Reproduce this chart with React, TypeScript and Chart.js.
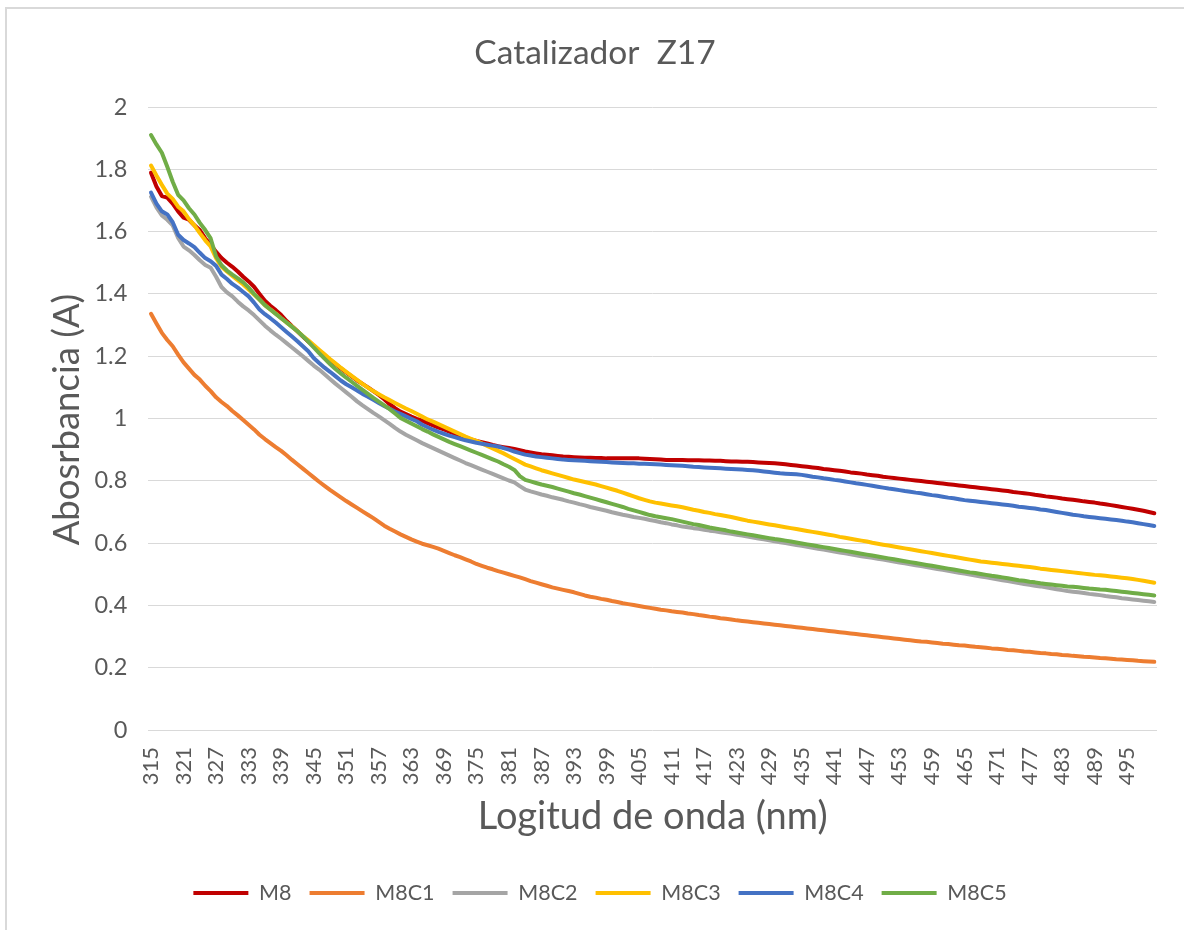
import React, { useEffect, useRef } from 'react';
import { Chart, registerables } from 'chart.js';

Chart.register(...registerables);

// ---------- DATA ----------
const categories = [
  '315','316','317','318','319','320','321','322','323','324',
  '325','326','327','328','329','330','331','332','333','334',
  '335','336','337','338','339','340','341','342','343','344',
  '345','346','347','348','349','350','351','352','353','354',
  '355','356','357','358','359','360','361','362','363','364',
  '365','366','367','368','369','370','371','372','373','374',
  '375','376','377','378','379','380','381','382','383','384',
  '385','386','387','388','389','390','391','392','393','394',
  '395','396','397','398','399','400','401','402','403','404',
  '405','406','407','408','409','410','411','412','413','414',
  '415','416','417','418','419','420','421','422','423','424',
  '425','426','427','428','429','430','431','432','433','434',
  '435','436','437','438','439','440','441','442','443','444',
  '445','446','447','448','449','450','451','452','453','454',
  '455','456','457','458','459','460','461','462','463','464',
  '465','466','467','468','469','470','471','472','473','474',
  '475','476','477','478','479','480','481','482','483','484',
  '485','486','487','488','489','490','491','492','493','494',
  '495','496','497','498','499','500',
];

const M8 = [
  1.789,1.745,1.714,1.709,1.690,1.665,1.645,1.638,1.620,1.605,
  1.578,1.558,1.535,1.515,1.500,1.487,1.472,1.455,1.440,1.423,
  1.400,1.378,1.362,1.348,1.332,1.313,1.296,1.280,1.263,1.247,
  1.232,1.217,1.202,1.188,1.175,1.161,1.148,1.135,1.122,1.111,
  1.100,1.088,1.076,1.062,1.046,1.033,1.022,1.014,1.006,0.999,
  0.993,0.985,0.978,0.971,0.965,0.958,0.951,0.945,0.939,0.933,
  0.928,0.924,0.920,0.915,0.911,0.908,0.905,0.902,0.898,0.894,
  0.891,0.888,0.885,0.884,0.882,0.880,0.878,0.877,0.876,0.875,
  0.874,0.874,0.873,0.873,0.872,0.872,0.872,0.872,0.872,0.872,
  0.872,0.871,0.870,0.869,0.868,0.867,0.867,0.867,0.867,0.866,
  0.866,0.866,0.865,0.865,0.864,0.864,0.863,0.862,0.862,0.861,
  0.861,0.860,0.859,0.858,0.857,0.856,0.855,0.853,0.851,0.849,
  0.847,0.845,0.843,0.841,0.838,0.836,0.834,0.832,0.830,0.827,
  0.825,0.823,0.820,0.818,0.816,0.813,0.811,0.809,0.807,0.805,
  0.803,0.801,0.799,0.797,0.795,0.793,0.791,0.789,0.787,0.785,
  0.783,0.781,0.779,0.777,0.775,0.773,0.771,0.769,0.767,0.764,
  0.762,0.760,0.758,0.755,0.753,0.750,0.748,0.746,0.743,0.741,
  0.739,0.737,0.734,0.732,0.730,0.727,0.725,0.722,0.719,0.716,
  0.713,0.710,0.707,0.704,0.700,0.696,
];

const M8C1 = [
  1.336,1.305,1.275,1.252,1.232,1.205,1.180,1.160,1.140,1.125,
  1.105,1.088,1.068,1.053,1.040,1.024,1.010,0.995,0.980,0.965,
  0.948,0.934,0.921,0.908,0.896,0.882,0.867,0.853,0.839,0.825,
  0.811,0.797,0.784,0.771,0.759,0.747,0.735,0.724,0.713,0.702,
  0.691,0.680,0.668,0.656,0.646,0.637,0.628,0.620,0.612,0.605,
  0.598,0.593,0.588,0.582,0.575,0.568,0.561,0.555,0.548,0.541,
  0.533,0.527,0.521,0.516,0.510,0.505,0.500,0.495,0.490,0.484,
  0.478,0.473,0.468,0.463,0.458,0.454,0.450,0.446,0.442,0.437,
  0.432,0.428,0.425,0.421,0.418,0.414,0.411,0.407,0.404,0.401,
  0.398,0.395,0.392,0.389,0.386,0.384,0.381,0.379,0.377,0.374,
  0.372,0.369,0.367,0.364,0.362,0.359,0.357,0.355,0.352,0.350,
  0.348,0.346,0.344,0.342,0.340,0.338,0.336,0.334,0.332,0.330,
  0.328,0.326,0.324,0.322,0.320,0.318,0.316,0.314,0.312,0.310,
  0.308,0.306,0.304,0.302,0.300,0.298,0.296,0.294,0.292,0.290,
  0.288,0.286,0.284,0.283,0.281,0.279,0.277,0.276,0.274,0.272,
  0.271,0.269,0.267,0.266,0.264,0.262,0.261,0.259,0.257,0.256,
  0.254,0.252,0.251,0.249,0.247,0.246,0.244,0.243,0.241,0.240,
  0.238,0.237,0.235,0.234,0.233,0.231,0.230,0.229,0.227,0.226,
  0.225,0.224,0.222,0.221,0.220,0.219,
];

const M8C2 = [
  1.712,1.678,1.652,1.638,1.620,1.580,1.552,1.540,1.525,1.508,
  1.493,1.484,1.455,1.422,1.405,1.392,1.375,1.360,1.347,1.332,
  1.315,1.298,1.283,1.269,1.256,1.242,1.228,1.214,1.200,1.185,
  1.170,1.157,1.142,1.127,1.112,1.098,1.084,1.070,1.055,1.042,
  1.030,1.018,1.007,0.995,0.983,0.970,0.958,0.948,0.939,0.930,
  0.921,0.913,0.905,0.897,0.889,0.881,0.873,0.865,0.857,0.850,
  0.843,0.836,0.829,0.822,0.815,0.808,0.801,0.795,0.783,0.772,
  0.766,0.761,0.756,0.752,0.747,0.743,0.739,0.734,0.730,0.725,
  0.721,0.716,0.712,0.708,0.704,0.699,0.695,0.691,0.688,0.684,
  0.681,0.678,0.674,0.671,0.667,0.664,0.660,0.657,0.653,0.651,
  0.648,0.646,0.643,0.640,0.638,0.635,0.632,0.630,0.627,0.624,
  0.621,0.618,0.615,0.612,0.609,0.606,0.603,0.600,0.597,0.594,
  0.591,0.588,0.585,0.582,0.579,0.576,0.573,0.570,0.567,0.564,
  0.561,0.558,0.555,0.553,0.550,0.547,0.544,0.541,0.538,0.535,
  0.532,0.529,0.526,0.523,0.520,0.517,0.514,0.511,0.508,0.505,
  0.502,0.499,0.496,0.493,0.490,0.487,0.484,0.481,0.478,0.475,
  0.472,0.469,0.466,0.463,0.461,0.458,0.455,0.452,0.449,0.446,
  0.444,0.442,0.440,0.437,0.435,0.433,0.430,0.428,0.426,0.423,
  0.421,0.419,0.417,0.415,0.413,0.411,
];

const M8C3 = [
  1.812,1.780,1.750,1.722,1.705,1.680,1.665,1.640,1.620,1.595,
  1.572,1.552,1.515,1.487,1.472,1.458,1.444,1.430,1.414,1.398,
  1.382,1.364,1.350,1.337,1.322,1.308,1.295,1.280,1.265,1.251,
  1.236,1.221,1.206,1.191,1.177,1.163,1.150,1.137,1.124,1.111,
  1.099,1.088,1.078,1.068,1.059,1.050,1.041,1.032,1.024,1.015,
  1.006,0.997,0.990,0.982,0.974,0.966,0.958,0.950,0.942,0.935,
  0.928,0.920,0.912,0.904,0.896,0.888,0.879,0.870,0.861,0.852,
  0.846,0.840,0.834,0.829,0.824,0.819,0.814,0.809,0.804,0.800,
  0.796,0.792,0.788,0.783,0.778,0.773,0.768,0.762,0.756,0.750,
  0.744,0.739,0.734,0.730,0.727,0.724,0.721,0.718,0.715,0.711,
  0.707,0.704,0.700,0.697,0.693,0.690,0.687,0.684,0.680,0.676,
  0.672,0.669,0.666,0.663,0.660,0.657,0.654,0.651,0.648,0.645,
  0.642,0.639,0.636,0.633,0.630,0.627,0.624,0.620,0.617,0.614,
  0.611,0.608,0.605,0.601,0.598,0.595,0.592,0.589,0.586,0.583,
  0.580,0.577,0.574,0.571,0.568,0.565,0.562,0.559,0.556,0.553,
  0.550,0.547,0.544,0.541,0.539,0.537,0.535,0.533,0.531,0.529,
  0.527,0.525,0.523,0.521,0.518,0.516,0.514,0.512,0.510,0.508,
  0.506,0.504,0.502,0.500,0.498,0.497,0.495,0.493,0.491,0.489,
  0.487,0.485,0.482,0.479,0.476,0.473,
];

const M8C4 = [
  1.725,1.690,1.665,1.655,1.630,1.590,1.573,1.562,1.550,1.532,
  1.515,1.505,1.490,1.462,1.448,1.432,1.420,1.406,1.392,1.372,
  1.350,1.335,1.322,1.308,1.293,1.278,1.263,1.248,1.232,1.216,
  1.194,1.178,1.163,1.150,1.136,1.122,1.110,1.100,1.090,1.079,
  1.070,1.060,1.050,1.040,1.031,1.022,1.015,1.007,0.999,0.991,
  0.980,0.972,0.964,0.957,0.951,0.945,0.940,0.935,0.930,0.926,
  0.922,0.919,0.916,0.913,0.910,0.905,0.900,0.894,0.889,0.884,
  0.881,0.878,0.876,0.874,0.872,0.870,0.868,0.867,0.866,0.865,
  0.864,0.863,0.862,0.861,0.860,0.859,0.858,0.857,0.856,0.856,
  0.855,0.855,0.854,0.853,0.852,0.851,0.850,0.849,0.848,0.847,
  0.845,0.844,0.843,0.842,0.841,0.840,0.839,0.838,0.837,0.836,
  0.835,0.834,0.832,0.830,0.828,0.826,0.824,0.823,0.822,0.821,
  0.819,0.816,0.813,0.811,0.808,0.806,0.803,0.801,0.798,0.795,
  0.792,0.790,0.787,0.784,0.781,0.778,0.775,0.773,0.770,0.767,
  0.765,0.762,0.760,0.757,0.754,0.752,0.749,0.746,0.744,0.741,
  0.738,0.736,0.734,0.732,0.730,0.728,0.726,0.724,0.722,0.720,
  0.717,0.715,0.713,0.711,0.708,0.706,0.703,0.700,0.697,0.694,
  0.691,0.689,0.686,0.684,0.682,0.680,0.678,0.676,0.674,0.672,
  0.669,0.667,0.664,0.661,0.658,0.655,
];

const M8C5 = [
  1.910,1.880,1.853,1.808,1.760,1.718,1.700,1.675,1.655,1.628,
  1.605,1.578,1.520,1.492,1.475,1.462,1.450,1.437,1.420,1.400,
  1.382,1.364,1.350,1.336,1.322,1.308,1.294,1.280,1.264,1.247,
  1.228,1.210,1.192,1.175,1.159,1.145,1.131,1.118,1.105,1.092,
  1.079,1.066,1.054,1.042,1.030,1.016,1.002,0.993,0.984,0.975,
  0.966,0.958,0.949,0.941,0.933,0.925,0.918,0.911,0.904,0.897,
  0.890,0.883,0.876,0.869,0.862,0.853,0.845,0.835,0.815,0.803,
  0.798,0.793,0.788,0.784,0.780,0.775,0.770,0.765,0.760,0.756,
  0.751,0.746,0.741,0.736,0.731,0.726,0.721,0.716,0.710,0.705,
  0.700,0.695,0.690,0.686,0.683,0.680,0.677,0.673,0.669,0.665,
  0.661,0.658,0.654,0.650,0.647,0.644,0.641,0.637,0.634,0.631,
  0.628,0.625,0.622,0.619,0.616,0.613,0.611,0.608,0.605,0.602,
  0.599,0.596,0.593,0.590,0.587,0.584,0.581,0.578,0.575,0.572,
  0.569,0.566,0.563,0.560,0.557,0.554,0.551,0.548,0.545,0.542,
  0.539,0.536,0.533,0.530,0.527,0.524,0.521,0.518,0.515,0.512,
  0.509,0.506,0.504,0.501,0.498,0.495,0.493,0.490,0.487,0.484,
  0.481,0.479,0.476,0.474,0.471,0.469,0.467,0.465,0.463,0.461,
  0.460,0.458,0.456,0.454,0.453,0.451,0.450,0.448,0.446,0.444,
  0.442,0.440,0.438,0.436,0.434,0.432,
];

const seriesNames = ['M8', 'M8C1', 'M8C2', 'M8C3', 'M8C4', 'M8C5'];
const seriesValues = [M8, M8C1, M8C2, M8C3, M8C4, M8C5];
const seriesColors = ['#C00000', '#ED7D31', '#A5A5A5', '#FFC000', '#4472C4', '#70AD47'];

const chartTitle = 'Catalizador  Z17';
const xTitle = 'Logitud de onda (nm)';
const yTitle = 'Abosrbancia (A)';
const yMin = 0;
const yMax = 2;
const yStep = 0.2;
const labelEvery = 6;

// ---------- STYLE ----------
const FONT = 'Lato';
const TEXT = '#595959';
const GRID = '#d9d9d9';
const W = 1184;
const H = 930;
const AREA_BOTTOM = 730;
const LEGEND_CENTER = 893;
const LEGEND_PAD = 18;

function fitSize(text: string, target: number): number {
  const c = document.createElement('canvas').getContext('2d');
  if (!c) return 20;
  c.font = `100px ${FONT}`;
  const m = c.measureText(text);
  let w = (m.actualBoundingBoxLeft || 0) + (m.actualBoundingBoxRight || 0);
  if (!w) w = m.width;
  return Math.round(((100 * target) / w) * 2) / 2;
}

export default function App() {
  const ref = useRef<HTMLCanvasElement | null>(null);

  useEffect(() => {
    const canvas = ref.current;
    if (!canvas) return;

    const titleSize = fitSize(chartTitle, 240);
    const xTitleSize = fitSize(xTitle, 347);
    const yTitleSize = fitSize(yTitle, 250);
    const yTickSize = fitSize('1.8', 30);
    const xTickSize = fitSize('315', 36);
    const legendSize = fitSize('M8C1', 56);

    // legend item centre = legend.bottom - fontSize/2 - 10 (Chart.js horizontal legend)
    const padBottom = H - 10 - legendSize / 2 - LEGEND_CENTER;
    const legendHeight = legendSize + LEGEND_PAD + 10;
    const xAxisHeight = H - padBottom - legendHeight - AREA_BOTTOM;

    const titlesPlugin = {
      id: 'customTitles',
      afterDraw(chart: any) {
        const { ctx, chartArea } = chart;
        ctx.save();
        ctx.fillStyle = TEXT;
        ctx.textAlign = 'center';
        ctx.textBaseline = 'alphabetic';
        ctx.font = `${titleSize}px ${FONT}`;
        ctx.fillText(chartTitle, 595, 64);
        ctx.font = `${xTitleSize}px ${FONT}`;
        ctx.fillText(xTitle, (chartArea.left + chartArea.right) / 2, 829);
        ctx.translate(79, (chartArea.top + chartArea.bottom) / 2 + 1);
        ctx.rotate(-Math.PI / 2);
        ctx.font = `${yTitleSize}px ${FONT}`;
        ctx.fillText(yTitle, 0, 0);
        ctx.restore();
      },
    };

    const chart = new Chart(canvas, {
      type: 'line',
      data: {
        labels: categories,
        datasets: seriesNames.map((name, i) => ({
          label: name,
          data: seriesValues[i],
          borderColor: seriesColors[i],
          backgroundColor: seriesColors[i],
          borderWidth: 4,
          borderCapStyle: 'round' as const,
          borderJoinStyle: 'round' as const,
          pointRadius: 0,
          pointHoverRadius: 0,
          tension: 0,
          fill: false,
          order: seriesNames.length - 1 - i,
        })),
      },
      options: {
        responsive: false,
        animation: false,
        devicePixelRatio: 1,
        layout: { padding: { left: 43, right: 27, top: 107, bottom: padBottom } },
        plugins: {
          legend: {
            position: 'bottom',
            labels: {
              usePointStyle: true,
              pointStyle: 'line',
              pointStyleWidth: 55,
              padding: LEGEND_PAD,
              color: TEXT,
              font: { family: FONT, size: legendSize },
              sort: (a: any, b: any) => a.datasetIndex - b.datasetIndex,
            },
          },
          title: { display: false },
          tooltip: { enabled: false },
        },
        scales: {
          x: {
            type: 'category',
            offset: true,
            grid: { display: false, drawTicks: false },
            border: { display: false },
            ticks: {
              autoSkip: false,
              minRotation: 90,
              maxRotation: 90,
              padding: 17,
              color: TEXT,
              font: { family: FONT, size: xTickSize },
              callback: (_v: any, i: number) => (i % labelEvery === 0 ? categories[i] : null),
            },
            afterFit: (s: any) => {
              s.height = xAxisHeight;
            },
          },
          y: {
            min: yMin,
            max: yMax,
            grid: { color: GRID, lineWidth: 1, drawTicks: false },
            border: { display: false },
            ticks: {
              stepSize: yStep,
              padding: 21,
              color: TEXT,
              font: { family: FONT, size: yTickSize },
              callback: (v: any) => String(Math.round(Number(v) * 10) / 10),
            },
            afterFit: (s: any) => {
              s.width = 105.3;
            },
          },
        },
      },
      plugins: [titlesPlugin],
    });

    return () => chart.destroy();
  }, []);

  return (
    <div
      style={{
        position: 'absolute',
        left: 0,
        top: 0,
        width: W,
        height: H,
        background: '#ffffff',
        overflow: 'hidden',
      }}
    >
      <canvas
        ref={ref}
        width={W}
        height={H}
        style={{ position: 'absolute', left: 0, top: 0, width: W, height: H }}
      />
      <div style={{ position: 'absolute', left: 5, top: 7, width: 2, height: H - 7, background: GRID }} />
      <div style={{ position: 'absolute', left: 5, top: 7, width: W - 5, height: 2, background: GRID }} />
    </div>
  );
}
